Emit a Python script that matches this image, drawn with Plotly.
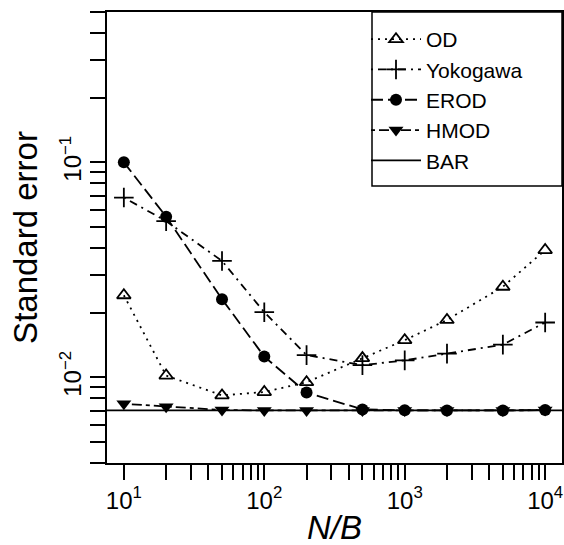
import math
import plotly.graph_objects as go

# ---- data ----
nb = [10, 20, 50, 100, 200, 500, 1000, 2000, 5000, 10000]
od = [0.0241, 0.0102, 0.00825, 0.00855, 0.0095, 0.0123, 0.0149, 0.0185, 0.0264, 0.0391]
yokogawa = [0.0686, 0.0533, 0.0348, 0.0201, 0.0127, 0.0114, 0.0120, 0.0129, 0.0142, 0.0180]
erod = [0.1, 0.0559, 0.0231, 0.0125, 0.0085, 0.0071, 0.00703, 0.00702, 0.00702, 0.00706]
hmod = [0.00754, 0.00731, 0.00706, 0.00702, 0.00701, 0.00702, 0.00701, 0.00701, 0.00702, 0.00705]
bar = 0.00702

series_names = ["OD", "Yokogawa", "EROD", "HMOD", "BAR"]
x_title = "<i>N/B</i>"
y_title = "Standard error"

# axis settings
x_range = [0.88, 4.12]
y_range = [math.log10(0.004), math.log10(0.5)]
x_tickvals = [m * 10 ** k for k in range(1, 4) for m in range(1, 10)] + [10000]
y_tickvals = [v for v in (m * 10 ** k for k in (-3, -2, -1) for m in range(1, 10)) if 0.0039 <= v <= 0.51]


def is_decade(v):
    return abs(math.log10(v) - round(math.log10(v))) < 1e-9


x_ticktext = [("10<sup>%d</sup>" % round(math.log10(v))) if is_decade(v) else "" for v in x_tickvals]
y_ticktext = [("10<sup>\u2212%d</sup>" % -round(math.log10(v))) if is_decade(v) else "" for v in y_tickvals]

FONT = "Liberation Sans, Arial, Helvetica, sans-serif"
LW = 1.8
W, H = 564, 545
M = dict(l=107, r=2, t=12, b=82)
PW, PH = W - M["l"] - M["r"], H - M["t"] - M["b"]

fig = go.Figure()
fig.add_trace(go.Scatter(
    x=nb, y=od, name=series_names[0], mode="lines+markers",
    line=dict(color="black", width=LW, dash="2px,5px"),
    marker=dict(symbol="triangle-up-open", size=12, color="black", line=dict(width=1.8, color="black")),
))
fig.add_trace(go.Scatter(
    x=nb, y=yokogawa, name=series_names[1], mode="lines+markers",
    line=dict(color="black", width=LW, dash="2px,5px,8px,5px"),
    marker=dict(symbol="cross-thin", size=14, color="black", line=dict(width=1.8, color="black")),
))
fig.add_trace(go.Scatter(
    x=nb, y=erod, name=series_names[2], mode="lines+markers",
    line=dict(color="black", width=LW, dash="12px,5px"),
    marker=dict(symbol="circle", size=12, color="black"),
))
fig.add_trace(go.Scatter(
    x=nb, y=hmod, name=series_names[3], mode="lines+markers",
    line=dict(color="black", width=LW, dash="4px,4px,10px,4px"),
    marker=dict(symbol="triangle-down", size=13, color="black"),
))
fig.add_trace(go.Scatter(
    x=[10 ** x_range[0], 10 ** x_range[1]], y=[bar, bar], name=series_names[4], mode="lines",
    line=dict(color="black", width=LW),
))

axis_common = dict(
    type="log", showgrid=False, zeroline=False, showline=True, mirror=True,
    linecolor="black", linewidth=1.5, ticks="outside", ticklen=15, tickwidth=1.5,
    tickcolor="black", tickfont=dict(family=FONT, size=24, color="black"),
    automargin=False,
)

# legend frame (in pixels of the reference, converted to paper units)
leg_left_px, leg_bottom_px = 372, 186
leg_x0 = (leg_left_px - M["l"]) / PW
leg_y0 = 1 - (leg_bottom_px - M["t"]) / PH

fig.update_layout(
    width=W, height=H,
    margin=M,
    paper_bgcolor="white", plot_bgcolor="white",
    font=dict(family=FONT, color="black"),
    showlegend=True,
    legend=dict(
        x=(366 - M["l"]) / PW, y=1 - (19 - M["t"]) / PH, xanchor="left", yanchor="top",
        borderwidth=0, bgcolor="rgba(0,0,0,0)",
        font=dict(family=FONT, size=21, color="black"),
        itemwidth=50, tracegroupgap=0,
    ),
    shapes=[dict(
        type="rect", xref="paper", yref="paper", x0=leg_x0, x1=1, y0=leg_y0, y1=1,
        line=dict(color="black", width=1.5), fillcolor="white", layer="below",
    )],
    annotations=[dict(
        text=x_title, xref="paper", yref="paper", x=0.5, y=1 - (507 - M["t"]) / PH,
        xanchor="center", yanchor="top", showarrow=False,
        font=dict(family=FONT, size=33, color="black"),
    )],
    xaxis=dict(
        **axis_common, range=x_range, tickmode="array",
        tickvals=x_tickvals, ticktext=x_ticktext, tickangle=0,
    ),
    yaxis=dict(
        **axis_common, range=y_range, tickmode="array",
        tickvals=y_tickvals, ticktext=y_ticktext, tickangle=-90,
        title=dict(text=y_title, font=dict(family=FONT, size=33, color="black"), standoff=8),
    ),
)

fig.write_html(
    "out.html",
    config={"displayModeBar": False},
    post_script="document.body.style.margin='0';document.body.style.padding='0';",
)
